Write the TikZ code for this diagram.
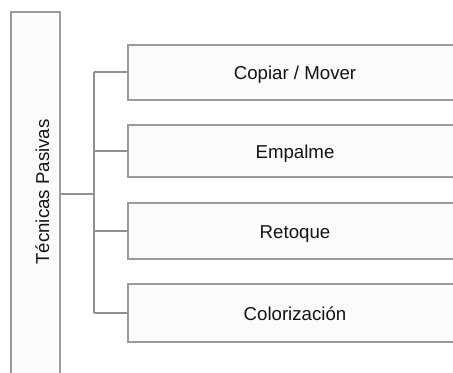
\documentclass[tikz,border=0pt]{standalone}
\usepackage{fontspec}
\setmainfont{Liberation Sans}
\definecolor{boxline}{RGB}{155,155,155}
\definecolor{conline}{RGB}{145,145,145}
\definecolor{boxfill}{RGB}{251,251,251}
\begin{document}
\begin{tikzpicture}[x=0.75pt,y=-0.75pt,
  every node/.style={font=\fontsize{14}{16.8}\selectfont, text=black!92},
  itembox/.style={draw=boxline, fill=boxfill, line width=1.5pt, rectangle, anchor=west,
    minimum width=252pt, inner sep=0pt},
  mainbox/.style={draw=boxline, fill=boxfill, line width=1.5pt, rectangle,
    minimum width=36.75pt, minimum height=273pt, inner sep=0pt},
  conn/.style={draw=conline, line width=1.5pt}]
\useasboundingbox (0,0) rectangle (453,373);
\clip (0,0) rectangle (453,373);
\node[mainbox] (main) at (35.5,194) {};
\node[rotate=90, anchor=base, inner sep=0pt] (maintxt) at (49,192) {Técnicas Pasivas};
\node[itembox, minimum height=41.25pt] (b1) at (127,72.5) {};
\node[itembox, minimum height=39pt] (b2) at (127,151) {};
\node[itembox, minimum height=42pt] (b3) at (127,231) {};
\node[itembox, minimum height=43.5pt] (b4) at (127,313) {};
\node[anchor=base, inner sep=0pt] (t1) at (295,80) {Copiar / Mover};
\node[anchor=base, inner sep=0pt] (t2) at (295,158.5) {Empalme};
\node[anchor=base, inner sep=0pt] (t3) at (295,238.5) {Retoque};
\node[anchor=base, inner sep=0pt] (t4) at (295,320.5) {Colorización};
\coordinate (j) at (93.5,194);
\draw[conn] (main.east) -- (j);
\draw[conn] (j |- b1.west) -- (j |- b4.west);
\draw[conn] (j |- b1.west) -- (b1.west);
\draw[conn] (j |- b2.west) -- (b2.west);
\draw[conn] (j |- b3.west) -- (b3.west);
\draw[conn] (j |- b4.west) -- (b4.west);
\end{tikzpicture}
\end{document}
